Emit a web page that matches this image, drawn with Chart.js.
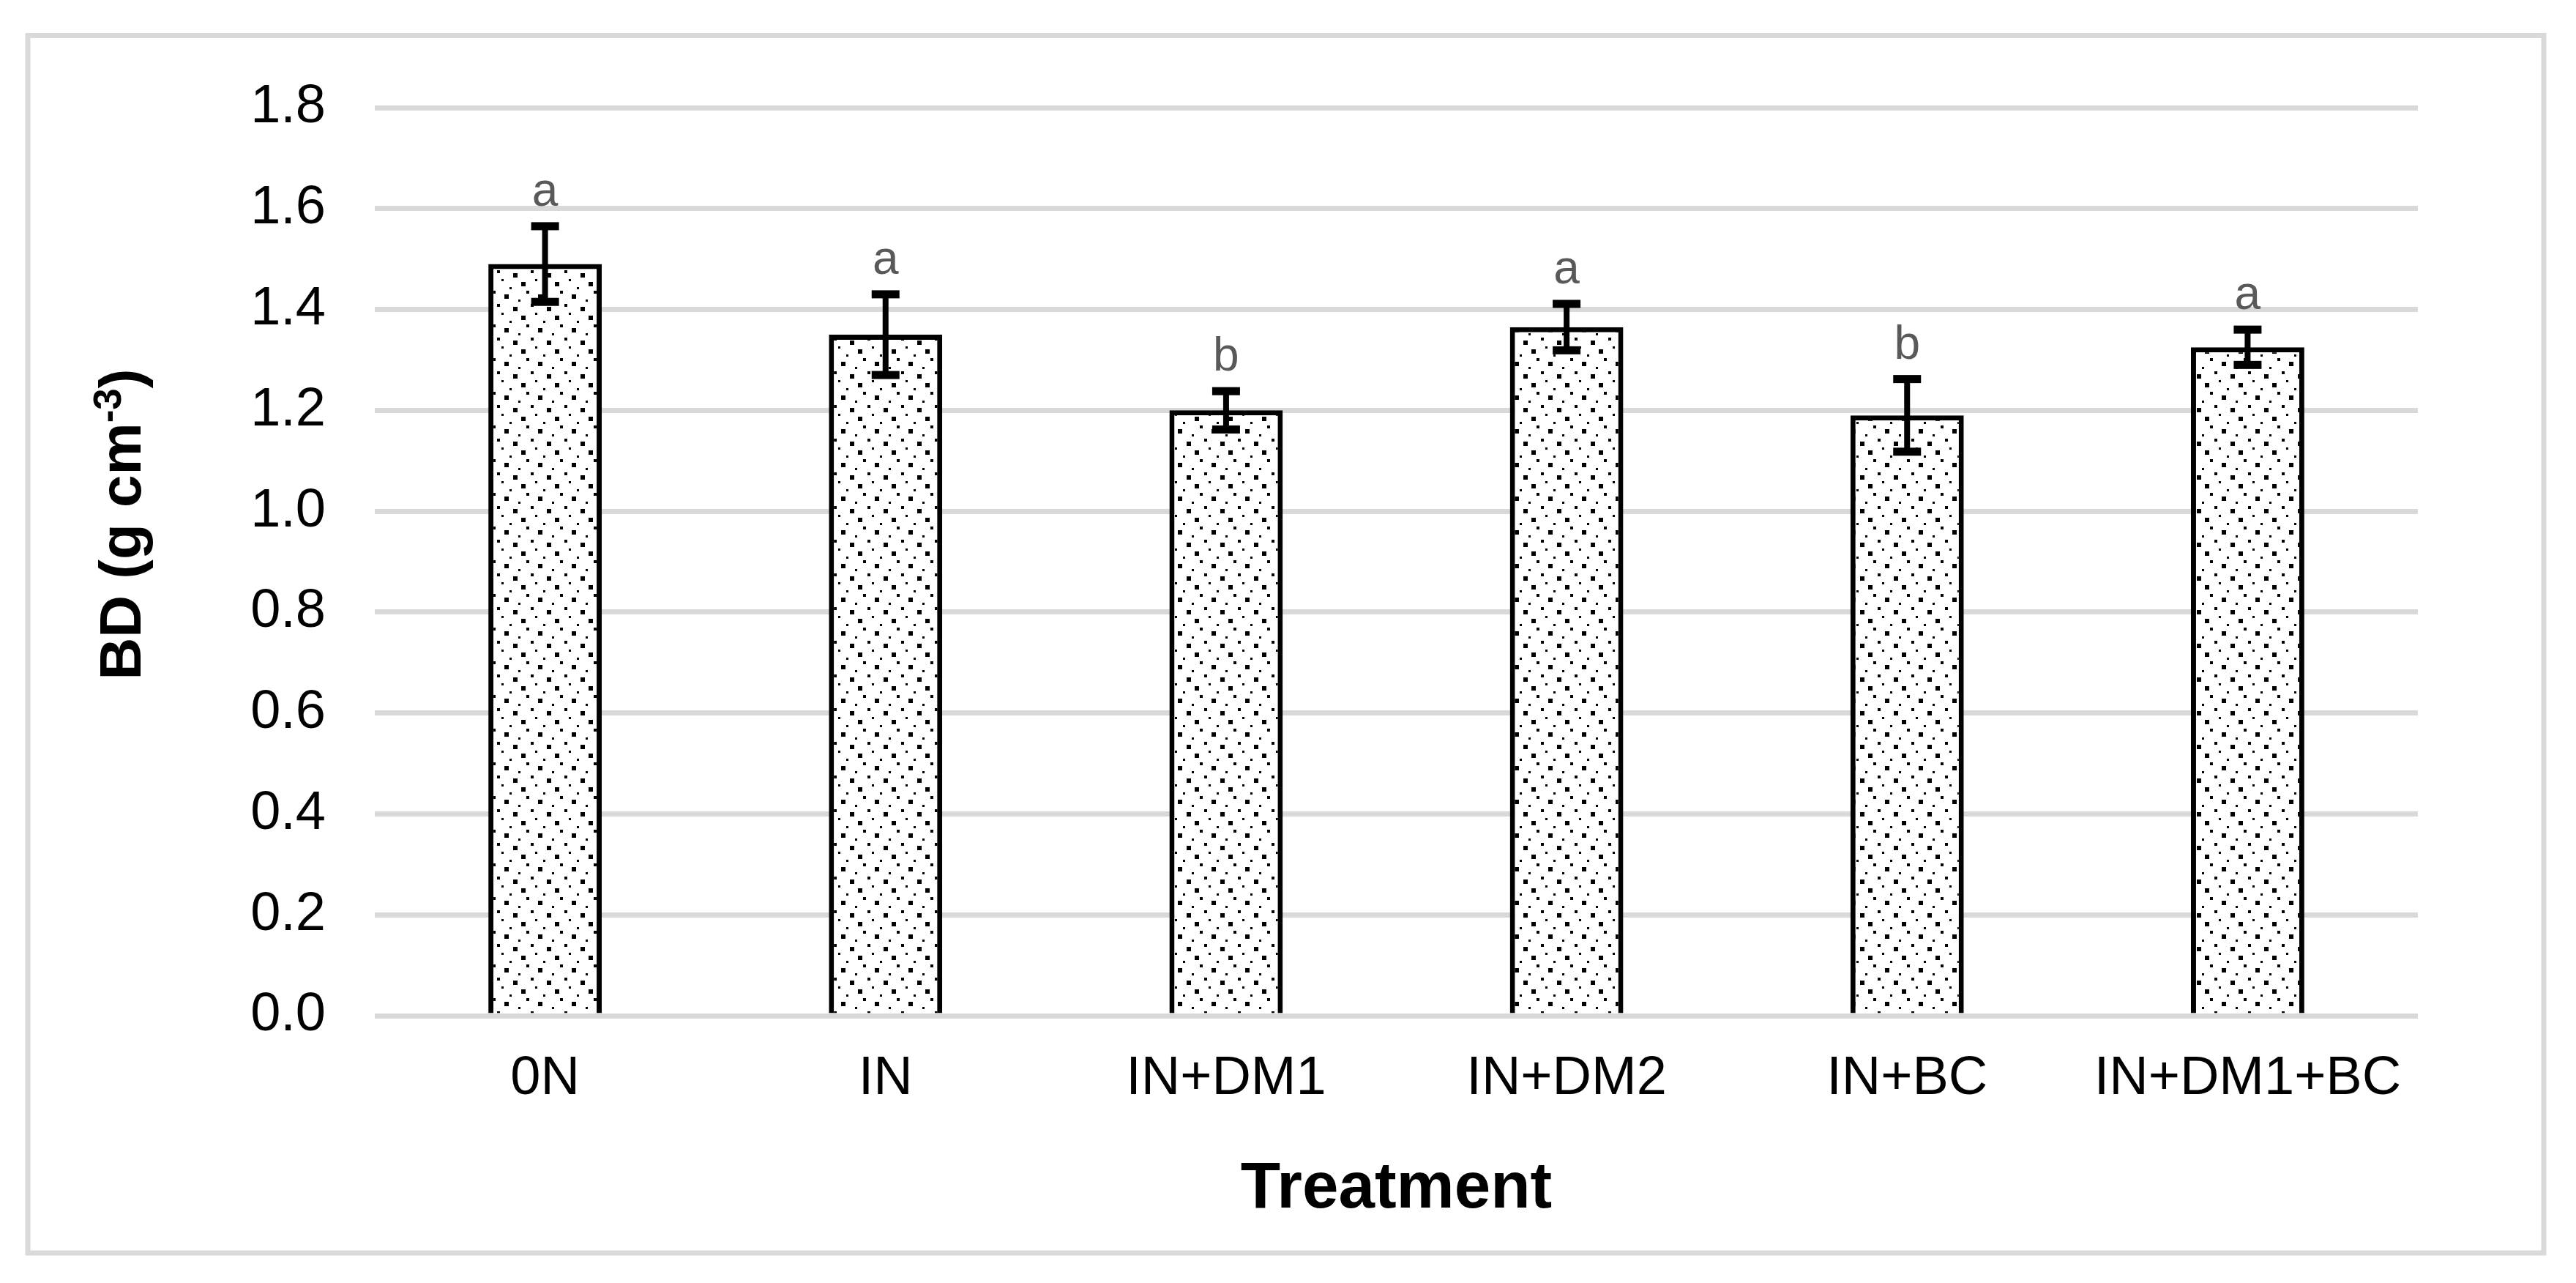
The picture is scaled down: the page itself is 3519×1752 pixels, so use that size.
<!DOCTYPE html>
<html><head><meta charset="utf-8">
<script src="https://cdn.jsdelivr.net/npm/chart.js@4.4.1/dist/chart.umd.min.js"></script>
<style>html,body{margin:0;padding:0;background:#fff;overflow:hidden}</style>
</head><body>
<canvas id="c" width="3519" height="1752" style="width:3519px;height:1752px;display:block"></canvas>
<script>
const categories = ['0N', 'IN', 'IN+DM1', 'IN+DM2', 'IN+BC', 'IN+DM1+BC'];
const bdMeans = [1.49, 1.35, 1.20, 1.365, 1.19, 1.325];
const bdErrors = [0.075, 0.08, 0.038, 0.046, 0.072, 0.035];
const sigLetters = ['a', 'a', 'b', 'a', 'b', 'a'];
const yMin = 0, yMax = 1.8, yStep = 0.2;
const xTitle = 'Treatment';
const yTitleMain = 'BD (g cm', yTitleSup = '-3', yTitleEnd = ')';

const FONT = '"Liberation Sans", Arial, sans-serif';
const canvas = document.getElementById('c');
const ctx = canvas.getContext('2d');

function makePattern() {
  const n = 46, cell = n / 8;
  const cols = [0, 3, 6, 2, 7, 4, 1, 5];
  const sizes = [6, 3, 4, 6, 3, 6, 3, 4];
  const t = document.createElement('canvas');
  t.width = n; t.height = n;
  const g = t.getContext('2d');
  g.fillStyle = '#fff'; g.fillRect(0, 0, n, n);
  g.fillStyle = '#000';
  for (let r = 0; r < 8; r++) {
    const s = sizes[r];
    const cx = (2 + cols[r] * cell) % n, cy = (37 + r * cell) % n;
    const x0 = Math.round(cx - s / 2), y0 = Math.round(cy - s / 2);
    for (const dx of [-n, 0, n]) for (const dy of [-n, 0, n]) g.fillRect(x0 + dx, y0 + dy, s, s);
  }
  return ctx.createPattern(t, 'repeat');
}

const frame = {
  id: 'frame',
  beforeDraw(chart) {
    const c = chart.ctx;
    c.save();
    c.fillStyle = '#fff';
    c.fillRect(0, 0, chart.width, chart.height);
    c.strokeStyle = '#d9d9d9';
    c.lineWidth = 7;
    c.strokeRect(38, 48.5, 3437, 1662.5);
    c.restore();
  }
};

const errorBars = {
  id: 'errorBars',
  afterDatasetsDraw(chart) {
    const c = chart.ctx;
    const ys = chart.scales.y;
    const meta = chart.getDatasetMeta(0);
    c.save();
    meta.data.forEach((bar, i) => {
      const x = bar.x;
      const yt = ys.getPixelForValue(bdMeans[i] + bdErrors[i]);
      const yb = ys.getPixelForValue(bdMeans[i] - bdErrors[i]);
      c.fillStyle = '#000';
      c.fillRect(x - 4, yt, 8, yb - yt);
      c.fillRect(x - 19, yt - 5.5, 38, 11);
      c.fillRect(x - 19, yb - 5.5, 38, 11);
      c.fillStyle = '#595959';
      c.font = '64px ' + FONT;
      c.textAlign = 'center';
      c.textBaseline = 'alphabetic';
      c.fillText(sigLetters[i], x, yt - 28);
    });
    c.restore();
  }
};

const yTitle = {
  id: 'yTitle',
  afterDraw(chart) {
    const c = chart.ctx;
    c.save();
    const big = 'bold 80px ' + FONT, small = 'bold 53px ' + FONT;
    c.font = big; const w1 = c.measureText(yTitleMain).width;
    c.font = small; const w2 = c.measureText(yTitleSup).width;
    c.font = big; const w3 = c.measureText(yTitleEnd).width;
    const total = w1 + w2 + w3;
    c.translate(192, 716);
    c.rotate(-Math.PI / 2);
    c.fillStyle = '#000';
    c.textBaseline = 'alphabetic';
    c.textAlign = 'left';
    let x = -total / 2;
    c.font = big; c.fillText(yTitleMain, x, 0); x += w1;
    c.font = small; c.fillText(yTitleSup, x, -27); x += w2;
    c.font = big; c.fillText(yTitleEnd, x, 0);
    c.restore();
  }
};

new Chart(ctx, {
  type: 'bar',
  data: {
    labels: categories,
    datasets: [{
      data: bdMeans,
      backgroundColor: makePattern(),
      borderColor: '#000',
      borderWidth: 7,
      borderSkipped: 'start',
      categoryPercentage: 1,
      barPercentage: 0.333
    }]
  },
  options: {
    responsive: false,
    animation: false,
    devicePixelRatio: 1,
    layout: { padding: { left: 0, top: 147, right: 216, bottom: 0 } },
    plugins: { legend: { display: false }, tooltip: { enabled: false } },
    scales: {
      x: {
        grid: { display: false, drawTicks: false },
        border: { display: false },
        ticks: { color: '#000', font: { family: FONT, size: 74 }, padding: 42, maxRotation: 0, autoSkip: false },
        title: { display: true, text: xTitle, color: '#000', font: { family: FONT, size: 89, weight: 'bold' }, padding: { top: 0, bottom: 74 } },
        afterFit(s) { s.height = 365; }
      },
      y: {
        min: yMin, max: yMax,
        grid: { color: '#d9d9d9', lineWidth: 7, drawTicks: false },
        border: { display: false },
        ticks: { stepSize: yStep, color: '#000', font: { family: FONT, size: 74 }, padding: 67,
          callback: v => Number(v).toFixed(1) },
        afterFit(s) { s.width = 512; }
      }
    }
  },
  plugins: [frame, errorBars, yTitle]
});
</script>
</body></html>
